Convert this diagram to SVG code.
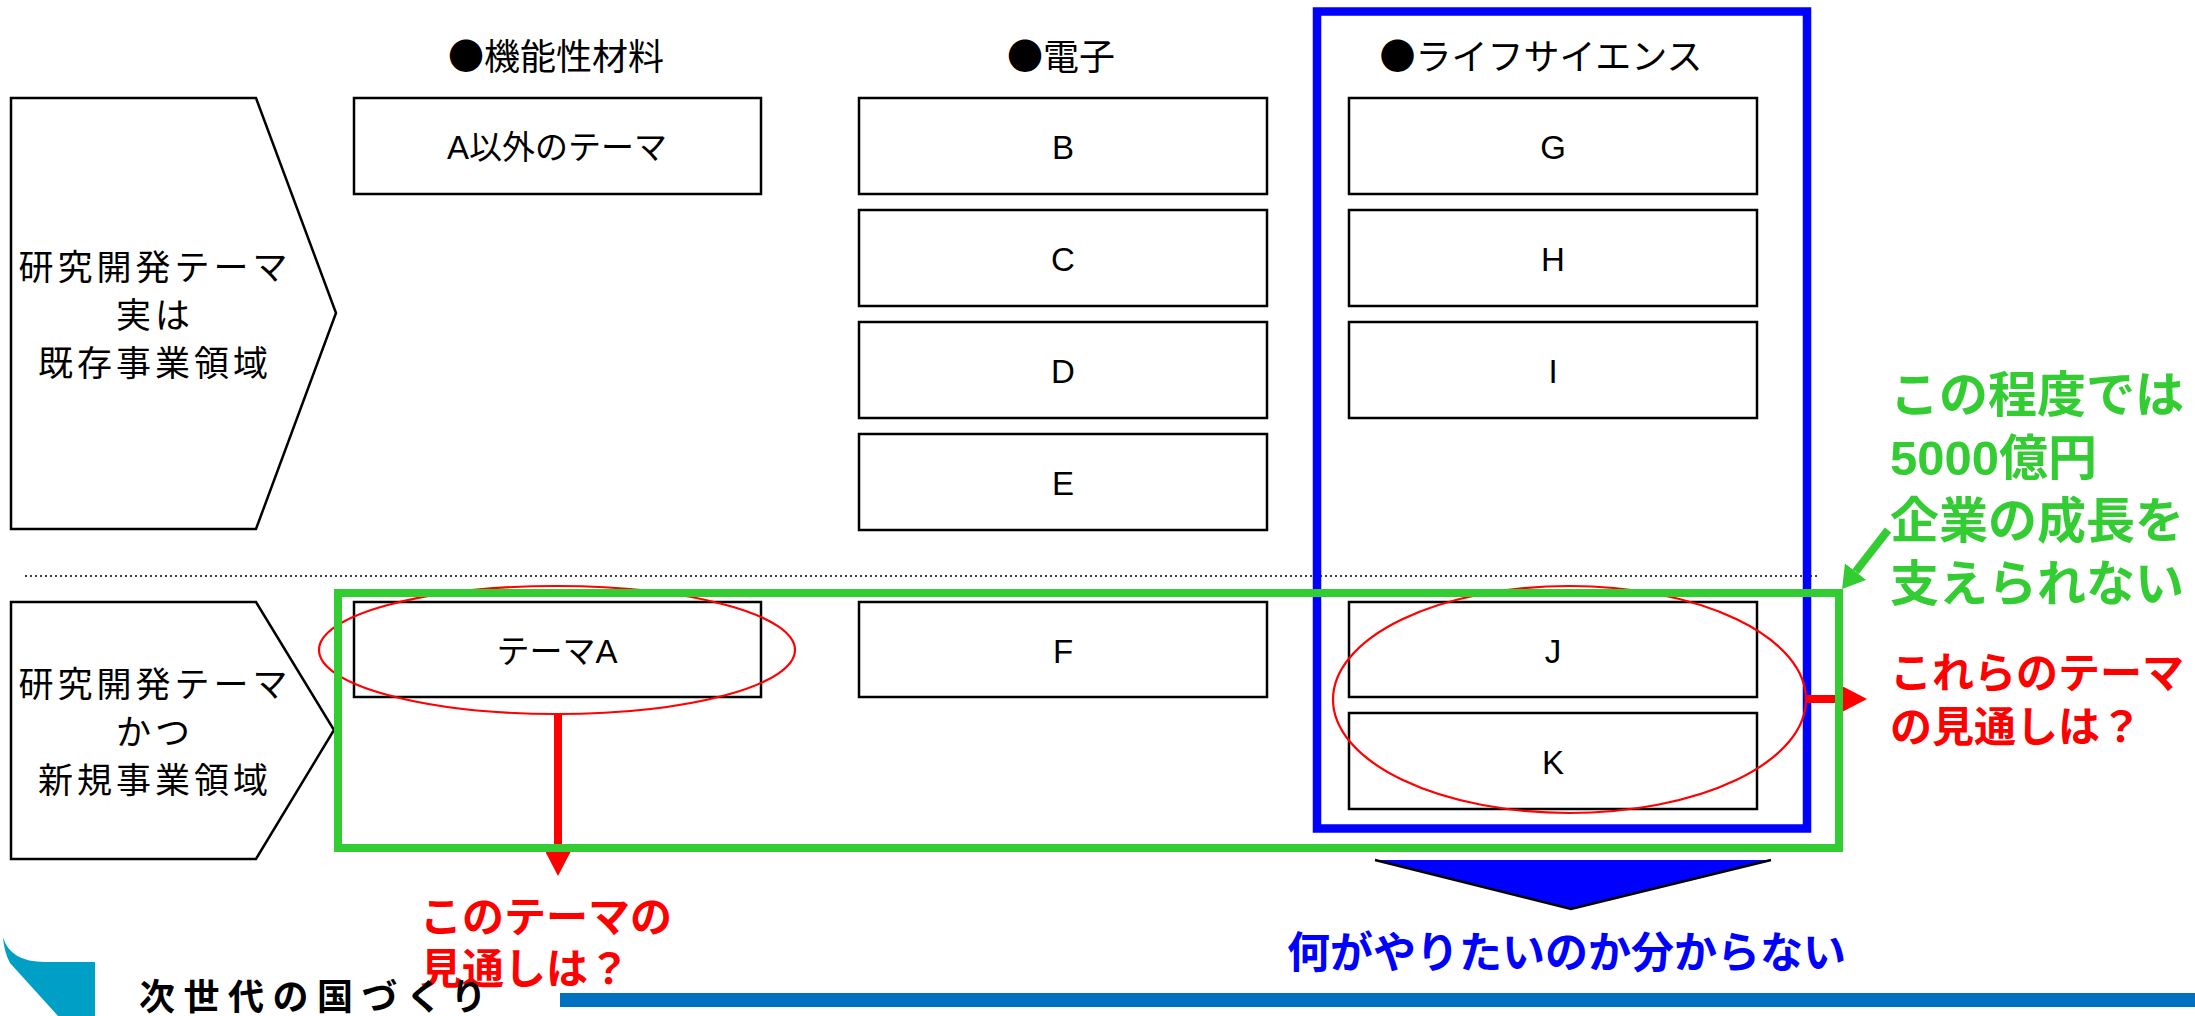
<svg xmlns="http://www.w3.org/2000/svg" width="2195" height="1016" viewBox="0 0 2195 1016">
<style>
.box{fill:#fff;stroke:#000;stroke-width:2.5}
.pent{fill:#fff;stroke:#000;stroke-width:2.5}
.bt{font-family:"Liberation Sans","Noto Sans CJK JP",sans-serif;font-size:33px;fill:#000;text-anchor:middle}
.hd{font-family:"Noto Sans CJK JP","Liberation Sans",sans-serif;font-size:36px;fill:#000;text-anchor:middle}
.pt{font-family:"Noto Sans CJK JP","Liberation Sans",sans-serif;font-size:35px;letter-spacing:4px;fill:#000;text-anchor:middle}
.red{font-family:"Liberation Sans","Noto Sans CJK JP",sans-serif;font-size:42px;font-weight:bold;fill:#f00}
.grn{font-family:"Liberation Sans","Noto Sans CJK JP",sans-serif;font-size:49px;font-weight:bold;fill:#33cc33}
.blu{font-family:"Liberation Sans","Noto Sans CJK JP",sans-serif;font-size:43px;font-weight:bold;fill:#0000ff}
.ell{fill:none;stroke:#f00;stroke-width:2.2}
</style>
<defs>
<marker id="redHead" markerUnits="userSpaceOnUse" markerWidth="24" markerHeight="25" refX="0" refY="12.5" orient="auto">
<path d="M0,0 L24,12.5 L0,25 Z" fill="#f00"/>
</marker>
<marker id="greenHead" markerUnits="userSpaceOnUse" markerWidth="22" markerHeight="27" refX="0" refY="13.5" orient="auto">
<path d="M0,0 L22,13.5 L0,27 Z" fill="#33cc33"/>
</marker>
</defs>
<rect width="2195" height="1016" fill="#fff"/>

<!-- row labels -->
<g id="label-existing">
<polygon class="pent" points="11,98 256,98 336,313 256,529 11,529"/>
<text class="pt" x="155" y="280">研究開発テーマ</text>
<text class="pt" x="155" y="328">実は</text>
<text class="pt" x="155" y="376">既存事業領域</text>
</g>
<g id="label-new">
<polygon class="pent" points="11,602 256,602 334,730 256,859 11,859"/>
<text class="pt" x="155" y="697">研究開発テーマ</text>
<text class="pt" x="155" y="745">かつ</text>
<text class="pt" x="155" y="793">新規事業領域</text>
</g>

<!-- column headers -->
<g id="header-materials"><text class="hd" x="556" y="70">●機能性材料</text></g>
<g id="header-electronics"><text class="hd" x="1061" y="70">●電子</text></g>
<g id="header-lifescience"><text class="hd" x="1541" y="70">●ライフサイエンス</text></g>

<!-- dotted separator -->
<line x1="25" y1="576" x2="1817" y2="576" stroke="#000" stroke-width="1.5" stroke-dasharray="2,3"/>

<!-- theme boxes -->
<g id="box-notA"><rect class="box" x="354" y="98" width="407" height="96"/><text class="bt" x="557" y="159">A以外のテーマ</text></g>
<g id="box-B"><rect class="box" x="859" y="98" width="408" height="96"/><text class="bt" x="1063" y="159">B</text></g>
<g id="box-C"><rect class="box" x="859" y="210" width="408" height="96"/><text class="bt" x="1063" y="271">C</text></g>
<g id="box-D"><rect class="box" x="859" y="322" width="408" height="96"/><text class="bt" x="1063" y="383">D</text></g>
<g id="box-E"><rect class="box" x="859" y="434" width="408" height="96"/><text class="bt" x="1063" y="495">E</text></g>
<g id="box-G"><rect class="box" x="1349" y="98" width="408" height="96"/><text class="bt" x="1553" y="159">G</text></g>
<g id="box-H"><rect class="box" x="1349" y="210" width="408" height="96"/><text class="bt" x="1553" y="271">H</text></g>
<g id="box-I"><rect class="box" x="1349" y="322" width="408" height="96"/><text class="bt" x="1553" y="383">I</text></g>
<g id="box-themeA"><rect class="box" x="354" y="602" width="407" height="95"/><text class="bt" x="557" y="663">テーマA</text></g>
<g id="box-F"><rect class="box" x="859" y="602" width="408" height="95"/><text class="bt" x="1063" y="663">F</text></g>
<g id="box-J"><rect class="box" x="1349" y="602" width="408" height="95"/><text class="bt" x="1553" y="663">J</text></g>
<g id="box-K"><rect class="box" x="1349" y="713" width="408" height="96"/><text class="bt" x="1553" y="774">K</text></g>

<!-- life science frame -->
<g id="frame-lifescience">
<rect x="1317" y="11.5" width="490" height="817" fill="none" stroke="#0000ff" stroke-width="8.5"/>
</g>

<!-- highlight ellipses -->
<g id="ellipse-themeA"><ellipse class="ell" cx="557" cy="650" rx="238" ry="64"/></g>
<g id="ellipse-JK"><ellipse class="ell" cx="1569.5" cy="699.5" rx="236.5" ry="113.5"/></g>

<!-- connectors -->
<g id="connectors">
<line x1="558" y1="714" x2="558" y2="852" stroke="#f00" stroke-width="8" marker-end="url(#redHead)"/>
<line x1="1807" y1="699" x2="1843" y2="699" stroke="#f00" stroke-width="8" marker-end="url(#redHead)"/>
<line x1="1888" y1="530" x2="1855.6" y2="571.6" stroke="#33cc33" stroke-width="8" marker-end="url(#greenHead)"/>
</g>

<!-- new business frame -->
<g id="frame-new">
<rect x="338" y="593" width="1501" height="255" fill="none" stroke="#33cc33" stroke-width="8"/>
</g>

<!-- big blue down arrow -->
<g id="arrow-down">
<polygon points="1375,860 1771,860 1571,909" fill="#0000ff"/>
<polyline points="1375,860 1571,909 1771,860" fill="none" stroke="#000" stroke-width="2.5"/>
</g>

<!-- annotations -->
<g id="note-themeA">
<text class="red" x="420" y="932">このテーマの</text>
<text class="red" x="420" y="984">見通しは？</text>
</g>
<g id="note-JK">
<text class="red" x="1890" y="688">これらのテーマ</text>
<text class="red" x="1890" y="742">の見通しは？</text>
</g>
<g id="note-growth">
<text class="grn" x="1890" y="412">この程度では</text>
<text class="grn" x="1890" y="475">5000億円</text>
<text class="grn" x="1890" y="538">企業の成長を</text>
<text class="grn" x="1890" y="601">支えられない</text>
</g>
<g id="note-unclear">
<text class="blu" x="1287" y="968">何がやりたいのか分からない</text>
</g>

<!-- footer -->
<g id="footer">
<path d="M3,937 Q10,962 45,962 L95,962 L95,1016 L58,1016 L10,963 Q4,952 3,937 Z" fill="#00a0c6"/>
<text x="139" y="1010" font-family="Noto Sans CJK JP,sans-serif" font-size="36" font-weight="bold" letter-spacing="8.5" fill="#000">次世代の国づくり</text>
<rect x="560" y="993" width="1635" height="14" fill="#0070c0"/>
</g>
</svg>
